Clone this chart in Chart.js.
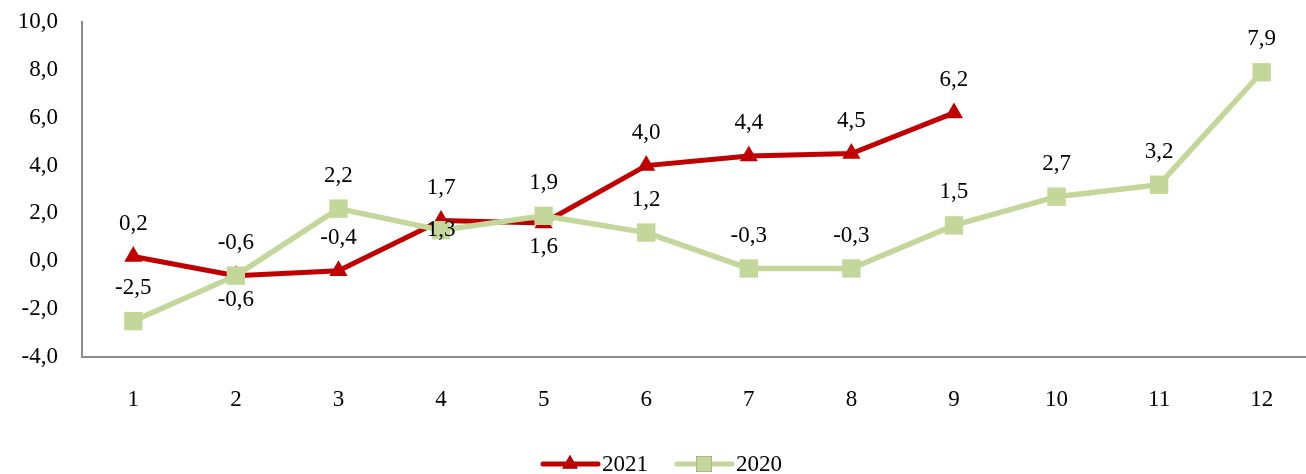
<!DOCTYPE html>
<html>
<head>
<meta charset="utf-8">
<script src="https://cdn.jsdelivr.net/npm/chart.js@4"></script>
<style>
  html, body { margin: 0; padding: 0; background: #fff; overflow: hidden; }
  #wrap { width: 1326px; height: 474px; }
</style>
</head>
<body>
<div id="wrap"><canvas id="lineChart" width="1326" height="474"></canvas></div>
<script>
const months = ['1', '2', '3', '4', '5', '6', '7', '8', '9', '10', '11', '12'];
const values2021 = [0.2, -0.6, -0.4, 1.7, 1.6, 4.0, 4.4, 4.5, 6.2];
const values2020 = [-2.5, -0.6, 2.2, 1.3, 1.9, 1.2, -0.3, -0.3, 1.5, 2.7, 3.2, 7.9];

const RED = '#c00000';
const GREEN = '#c4d79b';
const FONT = '"Liberation Serif", "DejaVu Serif", serif';
const FSIZE = 23;

// where each value label sits relative to its point
const labelPos = {
    '2021': ['up', 'up', 'up', 'up', 'down', 'up', 'up', 'up', 'up'],
    '2020': ['up', 'down', 'up', 'mid', 'up', 'up', 'up', 'up', 'up', 'up', 'up', 'up']
};

const fmt = v => v.toFixed(1).replace('.', ',');

const valueLabels = {
    id: 'valueLabels',
    afterDatasetsDraw(chart) {
        const ctx = chart.ctx;
        ctx.save();
        ctx.font = FSIZE + 'px ' + FONT;
        ctx.fillStyle = '#000';
        ctx.textAlign = 'center';
        ctx.textBaseline = 'middle';
        chart.data.datasets.forEach((ds, di) => {
            const meta = chart.getDatasetMeta(di);
            const pos = labelPos[ds.label];
            meta.data.forEach((pt, i) => {
                let y = pt.y;
                if (pos[i] === 'up') y -= 33;
                else if (pos[i] === 'down') y += 24;
                ctx.fillText(fmt(ds.data[i]), pt.x, y);
            });
        });
        ctx.restore();
    }
};

const bottomLegend = {
    id: 'bottomLegend',
    afterDraw(chart) {
        const ctx = chart.ctx;
        const cx = 666;
        const y = 464;
        const items = [
            { ds: chart.data.datasets[0], x: cx - 123 },
            { ds: chart.data.datasets[1], x: cx + 11 }
        ];
        ctx.save();
        ctx.font = FSIZE + 'px ' + FONT;
        ctx.textBaseline = 'middle';
        items.forEach(it => {
            ctx.strokeStyle = it.ds.borderColor;
            ctx.lineWidth = 5;
            ctx.lineCap = 'round';
            ctx.beginPath();
            ctx.moveTo(it.x, y);
            ctx.lineTo(it.x + 55, y);
            ctx.stroke();
            Chart.helpers.drawPoint(ctx, {
                pointStyle: it.ds.pointStyle,
                radius: it.ds.pointRadius * 0.85,
                borderWidth: 0
            }, it.x + 27, y);
            ctx.fillStyle = it.ds.pointBackgroundColor;
            ctx.fill();
            ctx.fillStyle = '#000';
            ctx.fillText(it.ds.label, it.x + 59, y + 1);
        });
        ctx.restore();
    }
};

new Chart(document.getElementById('lineChart'), {
    type: 'line',
    data: {
        labels: months,
        datasets: [
            {
                label: '2021', data: values2021, order: 1,
                borderColor: RED, borderWidth: 5,
                pointStyle: 'triangle', pointRadius: 10.5,
                pointBackgroundColor: RED, pointBorderColor: RED, pointBorderWidth: 0
            },
            {
                label: '2020', data: values2020, order: 0,
                borderColor: GREEN, borderWidth: 5.5,
                pointStyle: 'rect', pointRadius: 13,
                pointBackgroundColor: GREEN, pointBorderColor: GREEN, pointBorderWidth: 0
            }
        ]
    },
    options: {
        responsive: false,
        animation: false,
        layout: { padding: { top: 22, right: 0, left: 0, bottom: 0 } },
        plugins: { legend: { display: false }, tooltip: { enabled: false } },
        scales: {
            x: {
                offset: true,
                grid: { display: false, drawTicks: false },
                border: { color: '#8c8c8c', width: 2 },
                ticks: { color: '#000', padding: 29, font: { family: FONT, size: FSIZE } },
                afterFit(scale) { scale.height = 117; }
            },
            y: {
                min: -4, max: 10,
                grid: { display: false, drawTicks: false },
                border: { color: '#8c8c8c', width: 2 },
                ticks: {
                    stepSize: 2, color: '#000', padding: 24,
                    font: { family: FONT, size: FSIZE },
                    callback: v => fmt(v)
                },
                afterFit(scale) {
                    scale.width = 82;
                    scale.paddingTop = 0;
                    scale.paddingBottom = 0;
                }
            }
        }
    },
    plugins: [valueLabels, bottomLegend]
});
</script>
</body>
</html>
